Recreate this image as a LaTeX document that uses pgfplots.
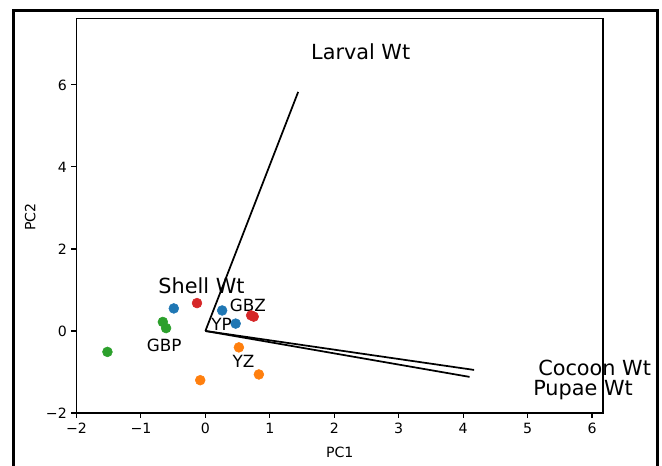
\documentclass[border=0pt]{standalone}
\usepackage{fontspec}
\setmainfont{DejaVu Sans}
\usepackage{pgfplots}
\pgfplotsset{compat=1.18}
\definecolor{tabblue}{HTML}{1F77B4}
\definecolor{taborange}{HTML}{FF7F0E}
\definecolor{tabgreen}{HTML}{2CA02C}
\definecolor{tabred}{HTML}{D62728}

\begin{document}
\begin{tikzpicture}
% page = the 662x466 px frame, 1 px = 0.75pt, origin at axis lower-left
\useasboundingbox (-76.5*0.75pt,-53*0.75pt) rectangle (585.5*0.75pt,413*0.75pt);
\begin{axis}[
    scale only axis,
    width=394.875pt, height=295.875pt,
    xmin=-2, xmax=6.17, ymin=-2, ymax=7.62,
    clip=false,
    axis line style={line width=0.83pt},
    tick style={black, line width=0.83pt},
    tick align=outside, major tick length=3.75pt,
    tick pos=left,
    xtick={-2,-1,0,1,2,3,4,5,6},
    xticklabels={−2,−1,0,1,2,3,4,5,6},
    ytick={-2,0,2,4,6},
    yticklabels={−2,0,2,4,6},
    tick label style={font=\fontsize{10.6pt}{12pt}\selectfont},
    label style={font=\fontsize{10.6pt}{12pt}\selectfont},
    xlabel={PC1}, ylabel={PC2},
    xlabel style={at={(axis description cs:0.5,-0.099)}, anchor=center},
    ylabel style={at={(axis description cs:-0.088,0.497)}, anchor=center},
    scatter/.style={only marks, mark=*, mark size=3.7pt},
]
% loading vectors
\addplot[black, line width=1.3pt] coordinates {(0,0) (1.44,5.83)};
\addplot[black, line width=1.3pt] coordinates {(0,0) (4.17,-0.95)};
\addplot[black, line width=1.3pt] coordinates {(0,0) (4.10,-1.12)};

% scores by group
\addplot[only marks, mark=*, mark size=3.7pt, color=tabblue]
    coordinates {(-0.49,0.55) (0.26,0.50) (0.47,0.18)};
\addplot[only marks, mark=*, mark size=3.7pt, color=taborange]
    coordinates {(0.52,-0.40) (0.83,-1.06) (-0.08,-1.20)};
\addplot[only marks, mark=*, mark size=3.7pt, color=tabgreen]
    coordinates {(-0.66,0.22) (-0.61,0.07) (-1.52,-0.51)};
\addplot[only marks, mark=*, mark size=3.7pt, color=tabred]
    coordinates {(-0.13,0.68) (0.71,0.38) (0.75,0.35)};

% variable names
\begin{scope}[every node/.style={inner sep=0pt, font=\fontsize{15.6pt}{18pt}\selectfont}]
\node at (axis cs:2.41,6.80) {Larval Wt};
\node at (axis cs:-0.06,1.11) {Shell Wt};
\node at (axis cs:6.04,-0.90) {Cocoon Wt};
\node at (axis cs:5.86,-1.44) {Pupae Wt};
\end{scope}
% group names
\begin{scope}[every node/.style={inner sep=0pt, font=\fontsize{12.6pt}{15pt}\selectfont}]
\node at (axis cs:0.66,0.63) {GBZ};
\node at (axis cs:0.25,0.17) {YP};
\node at (axis cs:-0.64,-0.34) {GBP};
\node at (axis cs:0.59,-0.74) {YZ};
\end{scope}
\end{axis}
% figure frame
\draw[line width=2.25pt] (-62.5*0.75pt,-120*0.75pt) -- (-62.5*0.75pt,402*0.75pt)
    -- (580.5*0.75pt,402*0.75pt) -- (580.5*0.75pt,-120*0.75pt);
\end{tikzpicture}
\end{document}
